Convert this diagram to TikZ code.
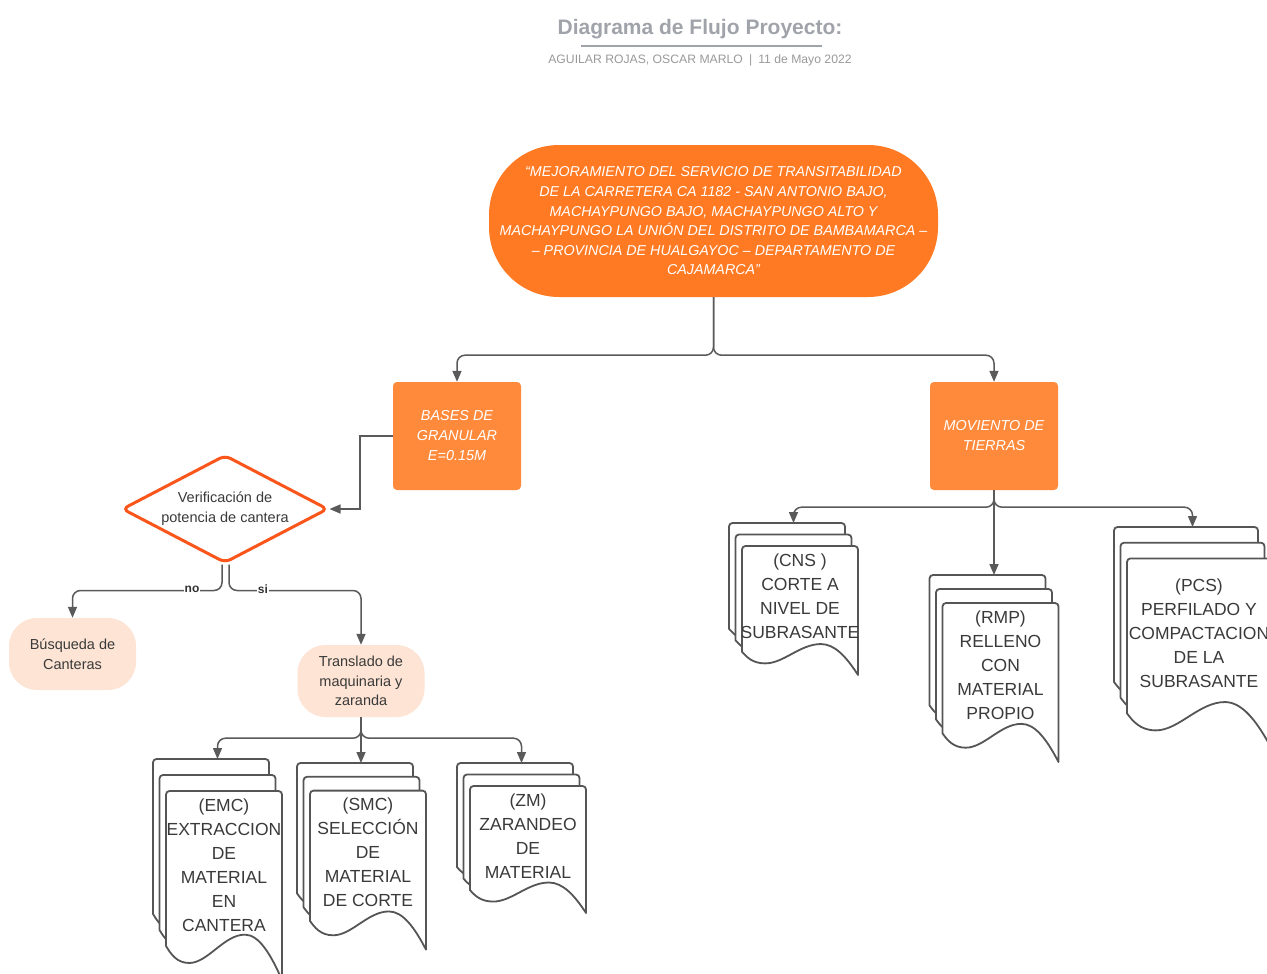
\documentclass[tikz,border=0pt]{standalone}
\usepackage{fontspec}
\setmainfont{Liberation Sans}
\usetikzlibrary{arrows.meta,shapes.geometric,calc}
\definecolor{orA}{HTML}{FF7A22}
\definecolor{orB}{HTML}{FF8A3B}
\definecolor{diaC}{HTML}{FA561C}
\definecolor{peach}{HTML}{FDE4D4}
\definecolor{lineC}{HTML}{5A5A5A}
\definecolor{docC}{HTML}{555555}
\definecolor{txtC}{HTML}{3A3A3A}
\definecolor{titC}{HTML}{A0A4AA}
\definecolor{subC}{HTML}{9A9A9A}
\tikzset{
  conn/.style={draw=lineC, line width=1.5pt, -{Triangle[length=11pt,width=9pt]}},
  docline/.style={draw=docC, line width=1.8pt, fill=white, line join=round},
  doctext/.style={text=txtC, align=center, font=\fontsize{17.5}{24}\selectfont, inner sep=0pt, anchor=north},
  topnode/.style={fill=orA, rounded corners=70pt, minimum width=449pt, minimum height=152pt, text=white, align=center, inner sep=0pt, font=\itshape\fontsize{14.3}{19.6}\selectfont},
  orbox/.style={fill=orB, rounded corners=4pt, minimum width=128pt, minimum height=108pt, text=white, align=center, inner sep=0pt, font=\itshape\fontsize{14.4}{20}\selectfont},
  peachbox/.style={fill=peach, rounded corners=28pt, minimum width=127pt, minimum height=72pt, text=txtC, align=center, inner sep=0pt, font=\fontsize{14.5}{19.5}\selectfont},
  decision/.style={diamond, draw=diaC, line width=3pt, fill=white, minimum width=206pt, minimum height=108pt, aspect=1.9, inner sep=0pt, rounded corners=6pt, text=txtC, align=center, font=\fontsize{14.5}{20}\selectfont},
  lbl/.style={fill=white, inner sep=1pt, text=black!80, font=\bfseries\fontsize{12}{14}\selectfont},
}
\newcommand\docshape[4]{%
  \path[docline] ({#1},{#2+0.82*#4}) [rounded corners=3.5pt] -- ({#1},{#2}) -- ({#1+#3},{#2}) -- ({#1+#3},{#2+0.5*#4}) [sharp corners] -- ({#1+#3},{#2+#4})
   .. controls ({#1+0.9*#3},{#2+0.86*#4}) and ({#1+0.8*#3},{#2+0.76*#4}) .. ({#1+0.68*#3},{#2+0.76*#4})
   .. controls ({#1+0.5*#3},{#2+0.76*#4}) and ({#1+0.36*#3},{#2+0.91*#4}) .. ({#1+0.2*#3},{#2+0.91*#4})
   .. controls ({#1+0.09*#3},{#2+0.91*#4}) and ({#1+0.04*#3},{#2+0.86*#4}) .. ({#1},{#2+0.82*#4}) -- cycle;}
% name, X, Y, W, H, dy, text offset, text
\newcommand\mdoc[8]{%
  \docshape{#2}{#3}{#4}{#5}
  \docshape{#2+6.5}{#3+#6}{#4}{#5}
  \docshape{#2+13}{#3+2*#6}{#4}{#5}
  \node[doctext] (#1) at ({#2+13+0.5*#4},{#3+2*#6+#7}) {#8};
  \coordinate (#1in) at ({#2+6.5+0.5*#4},{#3});
}
\begin{document}
\begin{tikzpicture}[x=1pt,y=-1pt]
\useasboundingbox[fill=white] (0,0) rectangle (1267,974);

% title
\node[text=titC, font=\bfseries\fontsize{21}{24}\selectfont, inner sep=0pt] (title) at (700,29) {Diagrama de Flujo Proyecto:};
\draw[titC, line width=1.5pt] (581,46) -- (822,46);
\node[text=subC, font=\fontsize{12.2}{14}\selectfont, inner sep=0pt] (sub) at (700,60) {AGUILAR ROJAS, OSCAR MARLO\enspace|\enspace 11 de Mayo 2022};

% main nodes
\node[topnode] (top) at (713.5,221) {“MEJORAMIENTO DEL SERVICIO DE TRANSITABILIDAD\\DE LA CARRETERA CA 1182 - SAN ANTONIO BAJO,\\MACHAYPUNGO BAJO, MACHAYPUNGO ALTO Y\\MACHAYPUNGO LA UNIÓN DEL DISTRITO DE BAMBAMARCA –\\– PROVINCIA DE HUALGAYOC – DEPARTAMENTO DE\\CAJAMARCA”};
\node[orbox] (bases) at (457,436) {BASES DE\\GRANULAR\\E=0.15M};
\node[orbox] (mov) at (994,436) {MOVIENTO DE\\TIERRAS};
\node[decision] (ver) at (225,509) {Verificación de\\potencia de cantera};
\node[peachbox] (bus) at (72.5,654) {Búsqueda de\\Canteras};
\node[peachbox] (tra) at (361,681) {Translado de\\maquinaria y\\zaranda};

% documents
\mdoc{cns}{729}{523}{116}{129}{11.5}{7.5}{(CNS )\\CORTE A\\NIVEL DE\\SUBRASANTE}
\mdoc{rmp}{929.5}{575}{116}{159}{14}{7.5}{(RMP)\\RELLENO\\CON\\MATERIAL\\PROPIO}
\mdoc{pcs}{1114}{527}{144}{189}{15.7}{20.5}{(PCS)\\PERFILADO Y\\COMPACTACION\\DE LA\\SUBRASANTE}
\mdoc{emc}{153}{759}{116}{189}{16}{7.5}{(EMC)\\EXTRACCION\\DE\\MATERIAL\\EN\\CANTERA}
\mdoc{smc}{297}{763}{116}{159}{13.8}{7.5}{(SMC)\\SELECCIÓN\\DE\\MATERIAL\\DE CORTE}
\mdoc{zm}{457}{763}{116}{127}{11.5}{7.5}{(ZM)\\ZARANDEO\\DE\\MATERIAL}

% connectors
\draw[conn, rounded corners=8pt] (top.south) -- ++(0,58) -| (bases.north);
\draw[conn, rounded corners=8pt] (top.south) -- ++(0,58) -| (mov.north);
\draw[conn] (bases.west) -- ++(-33,0) |- (ver.east);
\draw[conn, rounded corners=8pt] ([xshift=-3pt]ver.south) -- ++(0,26) -| (bus.north);
\draw[conn, rounded corners=8pt] ([xshift=4pt]ver.south) -- ++(0,26) -| (tra.north);
\node[lbl] (no) at (192,589) {no};
\node[lbl] (si) at (263,589) {si};
\draw[conn, rounded corners=8pt] (mov.south) -- ++(0,17) -| (cnsin);
\draw[conn] (mov.south) -- (mov.south |- rmpin);
\draw[conn, rounded corners=8pt] (mov.south) -- ++(0,17) -| (pcsin);
\draw[conn, rounded corners=8pt] (tra.south) -- ++(0,21) -| (emcin);
\draw[conn] (tra.south) -- (tra.south |- smcin);
\draw[conn, rounded corners=8pt] (tra.south) -- ++(0,21) -| (zmin);
\end{tikzpicture}
\end{document}
